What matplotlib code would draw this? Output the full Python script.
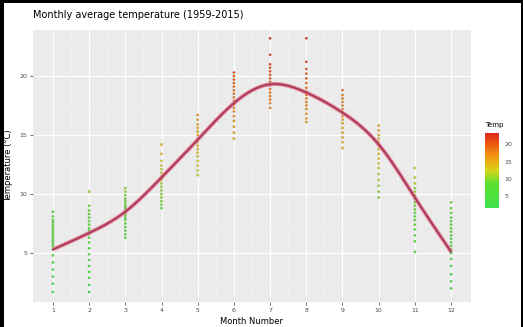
import numpy as np
import matplotlib
matplotlib.use("Agg")
import matplotlib.pyplot as plt
from matplotlib.colors import LinearSegmentedColormap, Normalize
from matplotlib.patches import Rectangle

# Monthly mean temperatures per year (°C), one list per month
months = list(range(1, 13))
jan = [8.5, 8.1, 7.8, 7.6, 7.4, 7.2, 7.0, 6.8, 6.6, 6.4, 6.2, 6.0, 5.8, 5.6, 5.3, 4.8, 4.2, 3.6, 3.0, 2.4, 1.7]
feb = [10.2, 9.0, 8.6, 8.3, 8.0, 7.7, 7.4, 7.1, 6.9, 6.6, 6.3, 5.9, 5.4, 4.9, 4.4, 3.9, 3.4, 2.9, 2.3, 1.7]
mar = [10.5, 10.2, 9.9, 9.6, 9.4, 9.2, 9.0, 8.8, 8.6, 8.4, 8.2, 8.0, 7.8, 7.5, 7.2, 6.9, 6.6, 6.3]
apr = [14.2, 13.4, 12.8, 12.4, 12.1, 11.8, 11.5, 11.2, 10.9, 10.6, 10.3, 10.0, 9.7, 9.4, 9.1, 8.8]
may = [16.7, 16.3, 15.9, 15.6, 15.3, 15.0, 14.7, 14.4, 14.1, 13.8, 13.5, 13.2, 12.8, 12.4, 12.0, 11.6]
jun = [20.3, 20.0, 19.7, 19.4, 19.1, 18.8, 18.5, 18.2, 17.9, 17.6, 17.3, 17.0, 16.6, 16.2, 15.7, 15.2, 14.7]
jul = [23.2, 21.8, 21.0, 20.7, 20.4, 20.1, 19.8, 19.5, 19.2, 18.9, 18.6, 18.3, 18.0, 17.7, 17.3]
aug = [23.2, 21.2, 20.6, 20.2, 19.8, 19.4, 19.0, 18.7, 18.4, 18.1, 17.8, 17.5, 17.2, 16.8, 16.4, 16.1]
sep = [18.8, 18.4, 18.1, 17.8, 17.5, 17.2, 16.9, 16.6, 16.3, 16.0, 15.6, 15.2, 14.8, 14.4, 13.9]
oct = [15.8, 15.4, 15.0, 14.7, 14.4, 14.1, 13.8, 13.4, 13.0, 12.6, 12.2, 11.7, 11.2, 10.7, 10.2, 9.7]
nov = [12.2, 11.4, 10.9, 10.5, 10.2, 9.9, 9.6, 9.3, 9.0, 8.7, 8.4, 8.1, 7.8, 7.4, 7.0, 6.5, 6.0, 5.1]
dec = [9.3, 8.8, 8.4, 8.0, 7.7, 7.4, 7.1, 6.8, 6.5, 6.2, 5.9, 5.6, 5.3, 5.0, 4.5, 3.9, 3.2, 2.6, 2.0]
by_month = [jan, feb, mar, apr, may, jun, jul, aug, sep, oct, nov, dec]

# Smoothed seasonal trend at each month
trend = [5.3, 6.7, 8.5, 11.4, 14.6, 17.7, 19.3, 18.6, 16.9, 14.2, 9.7, 5.1]

y_ticks = [5, 10, 15, 20]
legend_ticks = [5, 10, 15, 20]

title = "Monthly average temperature (1959-2015)"
x_title = "Month Number"
y_title = "Temperature (°C)"
legend_title = "Temp"

# green -> yellow -> orange -> red colour scale
cmap = LinearSegmentedColormap.from_list(
    "temp",
    [(0.0, "#3fe04a"), (0.33, "#5ee030"), (0.5, "#d8d21a"),
     (0.68, "#f29a12"), (0.85, "#ec5a10"), (1.0, "#e0261a")])


# natural cubic spline for the trend line
def natural_spline(x, y, xs):
    x = np.asarray(x, float)
    y = np.asarray(y, float)
    n = len(x)
    h = np.diff(x)
    A = np.zeros((n, n))
    r = np.zeros(n)
    A[0, 0] = A[-1, -1] = 1
    for i in range(1, n - 1):
        A[i, i - 1] = h[i - 1]
        A[i, i] = 2 * (h[i - 1] + h[i])
        A[i, i + 1] = h[i]
        r[i] = 3 * ((y[i + 1] - y[i]) / h[i] - (y[i] - y[i - 1]) / h[i - 1])
    c = np.linalg.solve(A, r)
    b = (np.diff(y) / h) - h * (2 * c[:-1] + c[1:]) / 3
    d = np.diff(c) / (3 * h)
    idx = np.clip(np.searchsorted(x, xs) - 1, 0, n - 2)
    dx = xs - x[idx]
    return y[idx] + b[idx] * dx + c[idx] * dx ** 2 + d[idx] * dx ** 3


W, H = 523, 327
fig = plt.figure(figsize=(W / 100, H / 100), dpi=100)
fig.patch.set_facecolor("white")

ax = fig.add_axes([33 / W, 1 - 302 / H, (471 - 33) / W, (302 - 30) / H])
ax.set_facecolor("#EBEBEB")
for s in ax.spines.values():
    s.set_visible(False)

xs_all = np.concatenate([[m] * len(v) for m, v in zip(months, by_month)])
ys_all = np.concatenate(by_month)
norm = Normalize(vmin=ys_all.min(), vmax=ys_all.max())

ax.set_xlim(0.45, 12.55)
ax.set_ylim(0.85, 23.9)
ax.set_xticks(months)
ax.set_xticks(np.arange(1.5, 12, 1), minor=True)
ax.set_yticks(y_ticks)
ax.set_yticks([2.5, 7.5, 12.5, 17.5, 22.5], minor=True)
ax.grid(which="major", color="white", linewidth=0.8)
ax.grid(which="minor", color="#F5F5F5", linewidth=0.4)
ax.set_axisbelow(True)

ax.tick_params(axis="both", which="major", length=2, width=0.5, color="#333333",
               labelsize=4.5, labelcolor="#4D4D4D", pad=2)
ax.tick_params(axis="both", which="minor", length=0)

sc = ax.scatter(xs_all, ys_all, c=ys_all, cmap=cmap, norm=norm, s=3.0,
                edgecolors="#6a6a6a", linewidths=0.12, zorder=3)

xx = np.linspace(1, 12, 300)
yy = natural_spline(months, trend, xx)
ax.plot(xx, yy, color="#e06a86", linewidth=2.8, alpha=0.85, zorder=4,
        solid_capstyle="butt")
ax.plot(xx, yy, color="#9b2f4e", linewidth=1.0, zorder=5)

ax.set_xlabel(x_title, fontsize=6, color="black", labelpad=3)
ax.set_ylabel(y_title, fontsize=6, color="black", labelpad=5)
fig.text(33 / W, 1 - 15 / H, title, fontsize=7, ha="left", va="center")

# colour bar legend
cax = fig.add_axes([485 / W, 1 - 208 / H, 14 / W, (208 - 133) / H])
cb = fig.colorbar(sc, cax=cax, ticks=legend_ticks)
cb.outline.set_visible(False)
cax.tick_params(length=2, width=0.5, color="white", labelsize=4.5,
                labelcolor="#4D4D4D", pad=2)
fig.text(485 / W, 1 - 125 / H, legend_title, fontsize=5, ha="left", va="center")

# black frame on left, top and right edges
fig.patches.append(Rectangle((0, 0), 4 / W, 1, transform=fig.transFigure,
                             facecolor="black", edgecolor="none"))
fig.patches.append(Rectangle((0, 1 - 3 / H), 1, 3 / H, transform=fig.transFigure,
                             facecolor="black", edgecolor="none"))
fig.patches.append(Rectangle((1 - 2 / W, 0), 2 / W, 1, transform=fig.transFigure,
                             facecolor="black", edgecolor="none"))

fig.savefig("out.png", dpi=100)
